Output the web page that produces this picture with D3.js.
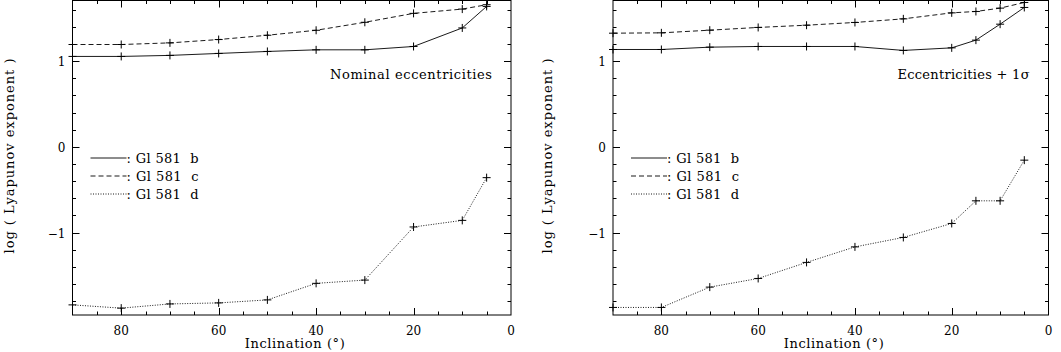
<!DOCTYPE html>
<html>
<head>
<meta charset="utf-8">
<script src="https://cdn.jsdelivr.net/npm/d3@7"></script>
<style>
  body { margin: 0; background: #fff; }
  text { font-family: "DejaVu Serif", serif; font-size: 13px; fill: #000; white-space: pre; }
  text.tick { font-size: 12px; }
</style>
</head>
<body>
<svg width="1061" height="352"></svg>
<script>
// inclinations (degrees) for each panel
let inclNominal = [90, 80, 70, 60, 50, 40, 30, 20, 10, 5];
let inclSigma   = [90, 80, 70, 60, 50, 40, 30, 20, 15, 10, 5];

// log(Lyapunov exponent), nominal eccentricities
let nomB = [1.054, 1.054, 1.066, 1.089, 1.112, 1.131, 1.131, 1.170, 1.386, 1.637];
let nomC = [1.193, 1.193, 1.212, 1.251, 1.301, 1.359, 1.452, 1.556, 1.606, 1.657];
let nomD = [-1.842, -1.880, -1.831, -1.819, -1.784, -1.591, -1.553, -0.934, -0.857, -0.359];

// log(Lyapunov exponent), eccentricities + 1 sigma
let sigB = [1.135, 1.135, 1.162, 1.170, 1.170, 1.170, 1.124, 1.154, 1.244, 1.430, 1.625];
let sigC = [1.325, 1.329, 1.360, 1.392, 1.418, 1.450, 1.492, 1.562, 1.578, 1.617, 1.683];
let sigD = [-1.872, -1.872, -1.635, -1.534, -1.347, -1.166, -1.056, -0.893, -0.629, -0.629, -0.155];

let planets   = ['Gl 581  b', 'Gl 581  c', 'Gl 581  d'];
let dashStyle = [null, '5,3', '1,1.5'];
let xTicks    = [80, 60, 40, 20, 0];
let yTicks    = [1, 0, -1];

let panels = [
  { left: 72.5, right: 511, label: 'Nominal eccentricities', labelLen: 162, incl: inclNominal, series: [nomB, nomC, nomD], titleX: 14 },
  { left: 613,  right: 1048.5, label: 'Eccentricities + 1\u03c3', labelLen: 132, incl: inclSigma, series: [sigB, sigC, sigD], titleX: 552 }
];

let plotTop = 0.5, plotBottom = 315;
let svg = d3.select('svg');

panels.forEach(p => {
  let xScale = d3.scaleLinear().domain([90, 0]).range([p.left, p.right]),
      yScale = d3.scaleLinear().domain([-1.96, 1.706]).range([plotBottom, plotTop]);

  let g = svg.append('g');

  // frame
  g.append('rect')
    .attr('x', p.left).attr('y', plotTop)
    .attr('width', p.right - p.left).attr('height', plotBottom - plotTop)
    .attr('fill', 'none').attr('stroke', '#000').attr('stroke-width', 1);

  // ticks, inward on all four sides
  let xMinor = d3.range(85, 0, -5);
  xMinor.forEach(v => {
    let len = v % 20 === 0 ? 7 : 3.5;
    let x = Math.round(xScale(v)) + 0.5;
    g.append('line').attr('x1', x).attr('x2', x).attr('y1', plotBottom).attr('y2', plotBottom - len).attr('stroke', '#000');
    g.append('line').attr('x1', x).attr('x2', x).attr('y1', plotTop).attr('y2', plotTop + len).attr('stroke', '#000');
  });
  let yMinor = d3.range(-18, 17, 2).map(d => d / 10);
  yMinor.forEach(v => {
    let len = Math.abs(v % 1) < 1e-9 ? 7 : 3.5;
    let y = Math.round(yScale(v)) + 0.5;
    g.append('line').attr('y1', y).attr('y2', y).attr('x1', p.left).attr('x2', p.left + len).attr('stroke', '#000');
    g.append('line').attr('y1', y).attr('y2', y).attr('x1', p.right).attr('x2', p.right - len).attr('stroke', '#000');
  });

  // tick labels
  g.selectAll('.xt').data(xTicks).enter().append('text')
    .attr('class', 'tick')
    .attr('x', d => xScale(d)).attr('y', 335)
    .attr('text-anchor', 'middle').text(d => d);
  g.selectAll('.yt').data(yTicks).enter().append('text')
    .attr('class', 'tick')
    .attr('x', p.left - 7).attr('y', d => yScale(d) + 5)
    .attr('text-anchor', 'end').text(d => d < 0 ? '\u2212' + Math.abs(d) : d);

  // axis titles
  g.append('text')
    .attr('x', (p.left + p.right) / 2 + 3).attr('y', 348)
    .attr('text-anchor', 'middle')
    .attr('textLength', 100).attr('lengthAdjust', 'spacing')
    .text('Inclination (\u00b0)');
  g.append('text')
    .attr('transform', `translate(${p.titleX}, 156) rotate(-90)`)
    .attr('text-anchor', 'middle')
    .attr('textLength', 195).attr('lengthAdjust', 'spacing')
    .text('log ( Lyapunov exponent )');

  // panel label
  g.append('text')
    .attr('x', p.right - 19).attr('y', 79)
    .attr('text-anchor', 'end')
    .attr('textLength', p.labelLen).attr('lengthAdjust', 'spacing')
    .text(p.label);

  // series
  let line = d3.line().x(d => xScale(d[0])).y(d => yScale(d[1]));
  p.series.forEach((s, i) => {
    let pts = p.incl.map((x, j) => [x, s[j]]);
    g.append('path').datum(pts)
      .attr('d', line)
      .attr('fill', 'none').attr('stroke', '#000').attr('stroke-width', 0.9)
      .attr('stroke-dasharray', dashStyle[i]);
    g.selectAll(null).data(pts).enter().append('path')
      .attr('d', d => {
        let x = xScale(d[0]), y = yScale(d[1]);
        return `M${x - 4},${y}H${x + 4}M${x},${y - 4}V${y + 4}`;
      })
      .attr('stroke', '#000').attr('stroke-width', 1);
  });

  // legend
  let legX = p.left + 18;
  planets.forEach((name, i) => {
    let y = 158 + i * 18;
    g.append('line')
      .attr('x1', legX).attr('x2', legX + 36).attr('y1', y).attr('y2', y)
      .attr('stroke', '#000').attr('stroke-width', 0.9)
      .attr('stroke-dasharray', dashStyle[i]);
    g.append('text')
      .attr('x', legX + 36).attr('y', y + 4.5)
      .attr('textLength', 72).attr('lengthAdjust', 'spacing')
      .text(': ' + name);
  });
});
</script>
</body>
</html>
